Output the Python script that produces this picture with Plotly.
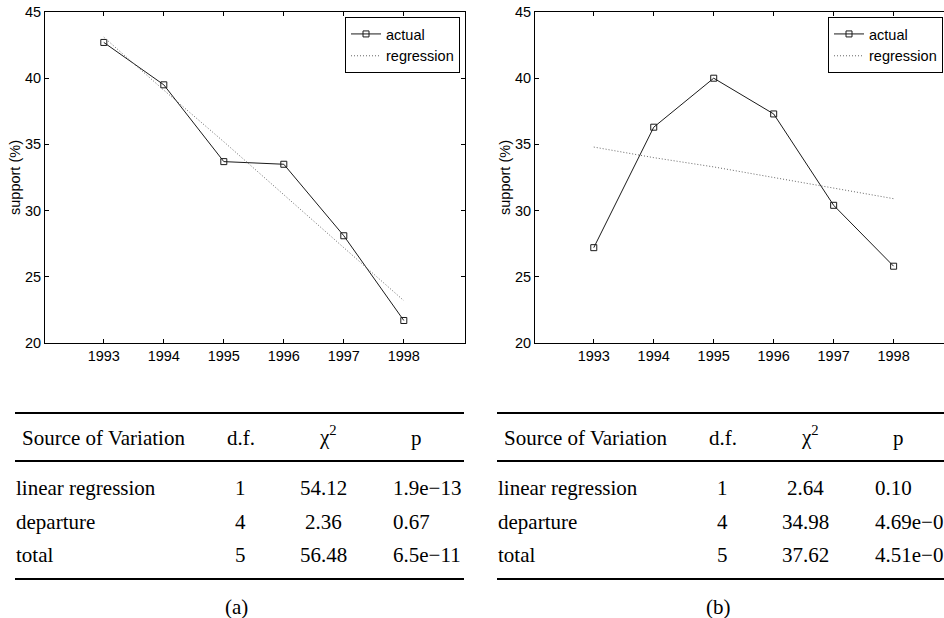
import plotly.graph_objects as go

# ---------------- data ----------------
years = [1993, 1994, 1995, 1996, 1997, 1998]
actual_a = [42.7, 39.5, 33.7, 33.5, 28.1, 21.7]
regression_a = [43.1, 39.1, 35.2, 31.2, 27.2, 23.2]
actual_b = [27.2, 36.3, 40.0, 37.3, 30.4, 25.8]
regression_b = [34.8, 34.0, 33.3, 32.5, 31.7, 30.9]
y_ticks = [20, 25, 30, 35, 40, 45]
series_names = ["actual", "regression"]

table_header = ["Source of Variation", "d.f.", "χ<sup>2</sup>", "p"]
sources = ["linear regression", "departure", "total"]
dof = ["1", "4", "5"]
chi2_a = ["54.12", "2.36", "56.48"]
p_a = ["1.9e−13", "0.67", "6.5e−11"]
chi2_b = ["2.64", "34.98", "37.62"]
p_b = ["0.10", "4.69e−07", "4.51e−07"]
panel_labels = ["(a)", "(b)"]

W, H = 944, 618


def px(x):
    return x / W


def py(y):
    return 1 - y / H


SANS = "Liberation Sans, Arial, Helvetica, sans-serif"
SERIF = "Liberation Serif, Times New Roman, serif"
LINE_C = "#1a1a1a"
REG_C = "#666666"

fig = go.Figure()

for i, (act, reg) in enumerate([(actual_a, regression_a), (actual_b, regression_b)]):
    xa = "x" if i == 0 else "x2"
    ya = "y" if i == 0 else "y2"
    leg = "legend" if i == 0 else "legend2"
    fig.add_trace(go.Scatter(
        x=years, y=act, mode="lines+markers", name=series_names[0],
        line=dict(color=LINE_C, width=1),
        marker=dict(symbol="square-open", size=6, color=LINE_C, line=dict(width=1)),
        xaxis=xa, yaxis=ya, legend=leg))
    fig.add_trace(go.Scatter(
        x=years, y=reg, mode="lines", name=series_names[1],
        line=dict(color=REG_C, width=1, dash="1px,2px"),
        xaxis=xa, yaxis=ya, legend=leg))

axis_common = dict(
    showline=True, linecolor="black", linewidth=1,
    ticks="inside", ticklen=4, tickcolor="black", tickwidth=1,
    showgrid=False, zeroline=False, automargin=False,
    tickfont=dict(family=SANS, size=14.5, color="black"),
)

ydom = [py(343), py(12)]
ytitle = dict(text="support (%)", standoff=0,
              font=dict(family=SANS, size=14.5, color="black"))
legend_common = dict(yanchor="top", bgcolor="white", bordercolor="black",
                     borderwidth=1, tracegroupgap=0, itemwidth=30,
                     font=dict(family=SANS, size=14.5, color="black"))

fig.update_layout(
    width=W, height=H,
    margin=dict(l=0, r=0, t=0, b=0, autoexpand=False),
    paper_bgcolor="white", plot_bgcolor="white",
    showlegend=True,
    xaxis=dict(domain=[px(45), px(465)], range=[1992.02, 1999.02],
               tickvals=years, anchor="y", mirror="ticks", **axis_common),
    yaxis=dict(domain=ydom, range=[20, 45], tickvals=y_ticks, anchor="x",
               mirror="ticks", title=ytitle, **axis_common),
    xaxis2=dict(domain=[px(535), 1.0], range=[1992.02, 1998.84],
                tickvals=years, anchor="y2", mirror="ticks", **axis_common),
    yaxis2=dict(domain=ydom, range=[20, 45], tickvals=y_ticks, anchor="x2",
                mirror=False, title=ytitle, **axis_common),
    legend=dict(x=px(460), y=py(17), xanchor="right", **legend_common),
    legend2=dict(x=px(828), y=py(17), xanchor="left", **legend_common),
)

# ---------------- tables ----------------
shapes = []
annotations = []
tfont = dict(family=SERIF, size=21, color="black")


def note(text, x, y, anchor):
    annotations.append(dict(text=text, x=px(x), y=py(y), xref="paper", yref="paper",
                            xanchor=anchor, yanchor="middle", showarrow=False,
                            font=tfont))


for t, (chi, pv) in enumerate([(chi2_a, p_a), (chi2_b, p_b)]):
    off = 482 * t
    x0, x1 = 15 + off, 464 + off + 40 * t
    for yl in (413, 461, 579):
        shapes.append(dict(type="line", xref="paper", yref="paper",
                           x0=px(x0), x1=px(x1), y0=py(yl), y1=py(yl),
                           line=dict(color="black", width=2)))
    hy = 438
    note(table_header[0], 20 + off, hy, "left")
    note(table_header[1], 241 + off, hy, "center")
    note(table_header[2], 328 + off, hy - 2, "center")
    note(table_header[3], 416 + off, hy, "center")
    for r in range(3):
        ry = 488 + 33.5 * r
        note(sources[r], 14 + off, ry, "left")
        note(dof[r], 240 + off, ry, "center")
        note(chi[r], 323 + off, ry, "center")
        note(pv[r], 391 + off, ry, "left")
    note(panel_labels[t], 236 + off, 607, "center")

fig.update_layout(shapes=shapes, annotations=annotations)

fig.write_html("out.html", config={"displayModeBar": False},
               post_script="document.body.style.margin='0px';")
